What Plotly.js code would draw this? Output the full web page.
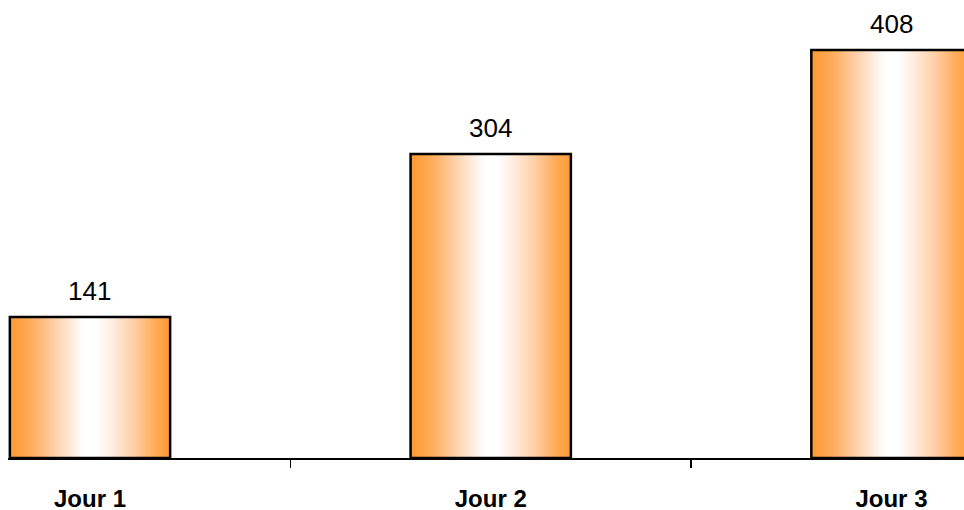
<!DOCTYPE html>
<html>
<head>
<meta charset="utf-8">
<script src="https://cdn.plot.ly/plotly-3.0.1.min.js"></script>
<style>html,body{margin:0;padding:0;background:#fff;}#chart{width:964px;height:510px;}</style>
</head>
<body>
<div id="chart"></div>
<script>
const categories = ['Jour 1', 'Jour 2', 'Jour 3'];
const values = [141, 304, 408];

const halfWidth = 0.2;
const gradient = {
  type: 'horizontal',
  colorscale: [
    [0, '#FF9933'], [0.12, '#FFAA55'], [0.25, '#FFC89A'], [0.37, '#FFE8D6'],
    [0.46, '#FFFFFF'], [0.54, '#FFFFFF'], [0.65, '#FFEBDC'], [0.78, '#FFCDA2'],
    [0.9, '#FFAD5A'], [1, '#FF9933']
  ]
};

const traces = values.map((v, i) => ({
  type: 'scatter',
  mode: 'lines',
  x: [i - halfWidth, i - halfWidth, i + halfWidth, i + halfWidth, i - halfWidth],
  y: [0, v, v, 0, 0],
  fill: 'toself',
  fillgradient: gradient,
  line: {color: '#000000', width: 2.5},
  hoverinfo: 'skip',
  showlegend: false
}));

const annotations = values.map((v, i) => ({
  x: i, y: v, xref: 'x', yref: 'y',
  text: String(v), showarrow: false,
  yanchor: 'bottom', yshift: 9,
  font: {family: 'Arial, "Liberation Sans", sans-serif', size: 26, color: '#000'}
}));

const layout = {
  width: 964, height: 510,
  margin: {l: 8, r: 0, t: 0, b: 52},
  paper_bgcolor: '#fff', plot_bgcolor: '#fff',
  showlegend: false,
  xaxis: {
    range: [-0.2046, 2.181],
    tickvals: [0, 1, 2],
    ticktext: categories,
    ticks: '',
    ticklabelstandoff: 19,
    tickfont: {family: 'Arial, "Liberation Sans", sans-serif', size: 24, color: '#000', weight: 'bold'},
    minor: {tickvals: [0.5, 1.5], ticks: 'outside', ticklen: 8, tickwidth: 1.5, tickcolor: '#000', showgrid: false},
    showline: true, linecolor: '#000', linewidth: 1.5,
    showgrid: false, zeroline: false, fixedrange: true
  },
  yaxis: {
    range: [0, 458], visible: false, showgrid: false, zeroline: false, fixedrange: true
  },
  annotations: annotations
};

Plotly.newPlot('chart', traces, layout, {displayModeBar: false, staticPlot: true});
</script>
</body>
</html>
